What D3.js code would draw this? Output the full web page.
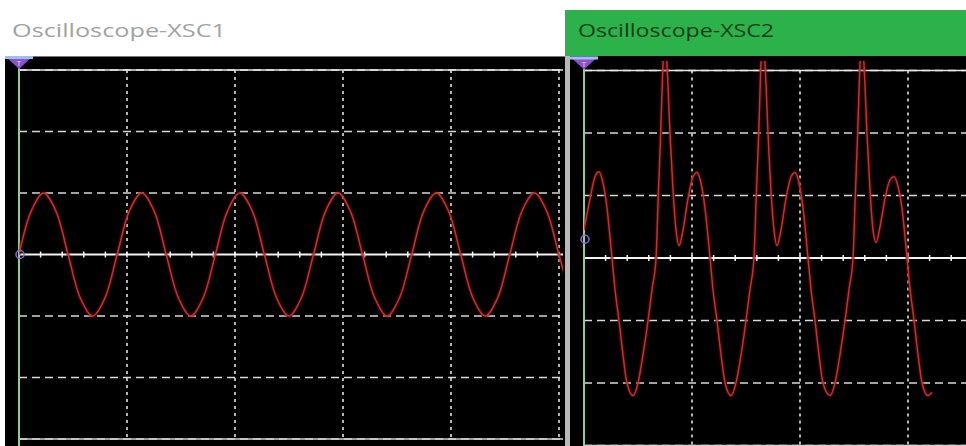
<!DOCTYPE html>
<html>
<head>
<meta charset="utf-8">
<script src="https://cdn.jsdelivr.net/npm/d3@7"></script>
<style>
  body { margin: 0; background: #fff; }
  svg { display: block; }
</style>
</head>
<body>
<script>
// time in screen divisions, level in volts/div divisions
var sineTime = [0.000, 0.114, 0.227, 0.341, 0.454, 0.568, 0.682, 0.795, 0.909, 1.022,
  1.136, 1.250, 1.363, 1.477, 1.590, 1.704, 1.818, 1.931, 2.045, 2.159,
  2.272, 2.386, 2.499, 2.613, 2.727, 2.840, 2.954, 3.067, 3.181, 3.295,
  3.408, 3.522, 3.636, 3.749, 3.863, 3.976, 4.090, 4.204, 4.317, 4.431,
  4.544, 4.658, 4.772, 4.885, 4.999, 5.112];
var sineLevel = [0, 0.71, 1, 0.71, 0, -0.71, -1, -0.71, 0, 0.71,
  1, 0.71, 0, -0.71, -1, -0.71, 0, 0.71, 1, 0.71,
  0, -0.71, -1, -0.71, 0, 0.71, 1, 0.71, 0, -0.71,
  -1, -0.71, 0, 0.71, 1, 0.71, 0, -0.71, -1, -0.71,
  0, 0.71, 1, 0.71, 0, -0.71];

var mixTime = [0.000, 0.056, 0.102, 0.139, 0.176, 0.213, 0.259, 0.287, 0.324, 0.361, 0.398,
  0.454, 0.500, 0.546, 0.593, 0.630, 0.667, 0.688, 0.710, 0.729, 0.750, 0.771, 0.796, 0.827,
  0.852, 0.880, 0.917, 0.963, 1.009, 1.046, 1.083, 1.120, 1.167, 1.194, 1.231, 1.269, 1.306,
  1.361, 1.407, 1.454, 1.500, 1.537, 1.574, 1.595, 1.618, 1.636, 1.657, 1.679, 1.704, 1.734,
  1.759, 1.787, 1.824, 1.870, 1.917, 1.954, 1.991, 2.028, 2.074, 2.102, 2.139, 2.176, 2.213,
  2.278, 2.324, 2.370, 2.417, 2.454, 2.491, 2.512, 2.534, 2.553, 2.574, 2.595, 2.620, 2.651,
  2.676, 2.704, 2.741, 2.787, 2.833, 2.870, 2.907, 2.944, 2.991, 3.019, 3.056, 3.093, 3.130,
  3.185, 3.222];
var mixLevel = [0.45, 0.95, 1.3, 1.38, 1.2, 0.8, 0.0, -0.5, -1.0, -1.55, -2.0,
  -2.2, -2.0, -1.55, -1.0, -0.5, 0.0, 1.0, 2.0, 3.0, 3.5, 3.0, 2.0, 1.0,
  0.45, 0.2, 0.45, 0.95, 1.3, 1.37, 1.2, 0.8, 0.0, -0.5, -1.0, -1.55, -2.0,
  -2.2, -2.0, -1.55, -1.0, -0.5, 0.0, 1.0, 2.0, 3.0, 3.5, 3.0, 2.0, 1.0,
  0.45, 0.2, 0.45, 0.95, 1.3, 1.37, 1.2, 0.8, 0.0, -0.5, -1.0, -1.55, -2.0,
  -2.2, -2.0, -1.55, -1.0, -0.5, 0.0, 1.0, 2.0, 3.0, 3.5, 3.0, 2.0, 1.0,
  0.45, 0.25, 0.5, 0.95, 1.25, 1.3, 1.15, 0.8, 0.0, -0.5, -1.0, -1.55, -2.0,
  -2.2, -2.15];

var gridX = [1, 2, 3, 4, 5];
var gridY = [-3, -2, -1, 1, 2, 3];
var titles = ["Oscilloscope-XSC1", "Oscilloscope-XSC2"];

var svg = d3.select("body").append("svg")
    .attr("width", 966)
    .attr("height", 446);

// title strip of XSC2 is the active (green) one
svg.append("rect").attr("x", 565).attr("y", 10).attr("width", 401).attr("height", 48)
    .attr("fill", "#2db24b");
svg.append("text").attr("x", 12).attr("y", 37)
    .attr("font-family", "Open Sans").attr("font-size", 18).attr("fill", "#a2a2a2")
    .attr("textLength", 214).attr("lengthAdjust", "spacingAndGlyphs")
    .text(titles[0]);
svg.append("text").attr("x", 578).attr("y", 37)
    .attr("font-family", "Open Sans").attr("font-size", 18).attr("fill", "#0e3f1a")
    .attr("textLength", 196).attr("lengthAdjust", "spacingAndGlyphs")
    .text(titles[1]);

// black screens + the grey splitter between them
svg.append("rect").attr("x", 5).attr("y", 56).attr("width", 961).attr("height", 390).attr("fill", "#000");
svg.append("line").attr("x1", 5).attr("x2", 565).attr("y1", 56.5).attr("y2", 56.5)
    .attr("stroke", "#777").attr("stroke-width", 1);
svg.append("rect").attr("x", 565).attr("y", 56).attr("width", 5).attr("height", 390).attr("fill", "#b9b9b9");

function scope(o) {
  var g = svg.append("g");
  var x = d3.scaleLinear().domain([0, 1]).range([o.left, o.left + 108]);
  var y = d3.scaleLinear().domain([0, 1]).range([o.zero, o.zero - o.div]);
  var top = y(3), bottom = y(-3);

  // dotted verticals
  g.selectAll("line.vg").data(gridX).enter().append("line")
      .attr("class", "vg")
      .attr("x1", function(d) { return x(d); }).attr("x2", function(d) { return x(d); })
      .attr("y1", top).attr("y2", bottom)
      .attr("stroke", "#e2e2e2").attr("stroke-width", 1.6).attr("stroke-dasharray", "3,4");
  // dashed horizontals
  g.selectAll("line.hg").data(gridY).enter().append("line")
      .attr("class", "hg")
      .attr("x1", o.left).attr("x2", o.right)
      .attr("y1", function(d) { return y(d); }).attr("y2", function(d) { return y(d); })
      .attr("stroke", "#d8d8d8").attr("stroke-width", 1.6).attr("stroke-dasharray", "8,5");

  // frame: top & bottom solid, green left edge
  g.append("line").attr("x1", o.left).attr("x2", o.right).attr("y1", top).attr("y2", top)
      .attr("stroke", "#e8e8e8").attr("stroke-width", 1.6);
  g.append("line").attr("x1", o.left).attr("x2", o.right).attr("y1", bottom).attr("y2", bottom)
      .attr("stroke", "#d0d0d0").attr("stroke-width", 1.6);

  // zero axis with minor ticks
  g.append("line").attr("x1", o.left).attr("x2", o.right).attr("y1", o.zero).attr("y2", o.zero)
      .attr("stroke", "#f4f4f4").attr("stroke-width", 2);
  var minor = d3.scaleLinear().domain([0, 5]).ticks(25).filter(function(d) { return x(d) < o.right - 2; });
  g.selectAll("line.mt").data(minor).enter().append("line")
      .attr("class", "mt")
      .attr("x1", function(d) { return x(d); }).attr("x2", function(d) { return x(d); })
      .attr("y1", o.zero - 3).attr("y2", o.zero + 3)
      .attr("stroke", "#f4f4f4").attr("stroke-width", 1.5);

  g.append("line").attr("x1", o.left).attr("x2", o.left).attr("y1", top - 2).attr("y2", 446)
      .attr("stroke", "#8fce8f").attr("stroke-width", 2);

  // trace
  g.append("clipPath").attr("id", "clip" + o.id)
    .append("rect").attr("x", o.left).attr("y", o.clipTop)
    .attr("width", o.right - o.left).attr("height", bottom - o.clipTop + 4);
  var pts = o.time.map(function(t, i) { return [t, o.level[i]]; });
  var line = d3.line()
      .x(function(d) { return x(d[0]); })
      .y(function(d) { return y(d[1]); })
      .curve(o.curve);
  var tg = g.append("g").attr("clip-path", "url(#clip" + o.id + ")");
  tg.append("path").datum(pts).attr("d", line)
      .attr("fill", "none").attr("stroke", "#6a0c0c").attr("stroke-width", 4).attr("opacity", 0.45);
  tg.append("path").datum(pts).attr("d", line)
      .attr("fill", "none").attr("stroke", "#c9302c").attr("stroke-width", 1.5);

  // trigger flag + channel marker
  g.append("path")
      .attr("d", "M" + (o.left - 14) + "," + (top - 14) + "L" + (o.left + 14) + "," + (top - 14) + "L" + o.left + "," + (top - 1) + "Z")
      .attr("fill", "#8c4fcf");
  g.append("rect").attr("x", o.left - 14).attr("y", top - 14).attr("width", 28).attr("height", 3)
      .attr("fill", "#9cc2ea");
  g.append("text").attr("x", o.left).attr("y", top - 4).attr("text-anchor", "middle")
      .attr("font-family", "DejaVu Sans").attr("font-size", 7).attr("fill", "#e8d8ff").text("T");
  g.append("circle").attr("cx", o.left + 1).attr("cy", y(o.marker)).attr("r", 4)
      .attr("fill", "none").attr("stroke", "#9468d8").attr("stroke-width", 1.5);
}

scope({ id: 1, left: 19, right: 563, zero: 254.5, div: 61.5, clipTop: 68,
  time: sineTime, level: sineLevel, marker: 0, curve: d3.curveCatmullRom });
scope({ id: 2, left: 584, right: 966, zero: 258, div: 62.5, clipTop: 61,
  time: mixTime, level: mixLevel, marker: 0.3, curve: d3.curveMonotoneX });
</script>
</body>
</html>
